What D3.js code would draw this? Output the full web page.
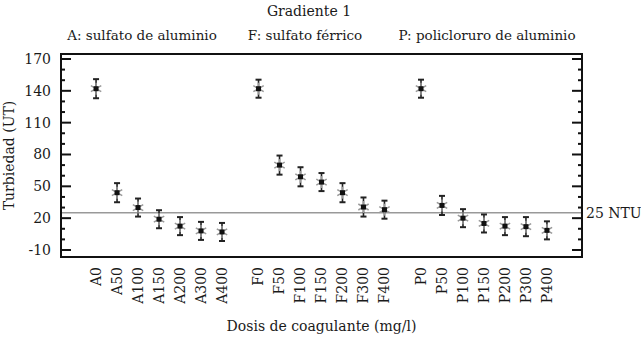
<!DOCTYPE html>
<html>
<head>
<meta charset="utf-8">
<script src="https://cdn.jsdelivr.net/npm/d3@7"></script>
<style>
  body { margin: 0; background: #fff; }
  text { font-family: "DejaVu Serif", "Liberation Serif", serif; fill: #1a1a1a; }
</style>
</head>
<body>
<div id="chart"></div>
<script>
// data
const groups = ["A", "F", "P"];
const groupNames = ["A: sulfato de aluminio", "F: sulfato férrico", "P: policloruro de aluminio"];
const doses = ["0", "50", "100", "150", "200", "300", "400"];
const turbA = [142, 44, 30, 19, 12.5, 8, 7];
const turbF = [142, 70, 59, 54, 44, 30.5, 28];
const turbP = [142, 32, 20, 15, 12.5, 12, 8.5];
const errA = [9, 9, 8.5, 8.5, 8.5, 8.5, 8.5];
const errF = [8.5, 9, 9, 8.5, 9, 9, 8.5];
const errP = [8.5, 9, 8.5, 8.5, 8.5, 9, 8.5];
const yTicks = [-10, 20, 50, 80, 110, 140, 170];
const limitNTU = 25;

const series = [turbA, turbF, turbP];
const errors = [errA, errF, errP];

// flatten into points
const points = [];
groups.forEach((g, gi) => {
    doses.forEach((d, di) => {
        points.push({ label: g + d, pos: gi * (doses.length + 0.74) + di, value: series[gi][di], err: errors[gi][di] });
    });
});

const margin = { top: 54, right: 59, bottom: 83, left: 61 },
    width = 641 - margin.left - margin.right,
    height = 340 - margin.top - margin.bottom;

const svg = d3.select("#chart")
    .append("svg")
    .attr("width", 641)
    .attr("height", 340);

const g = svg.append("g")
    .attr("transform", `translate(${margin.left},${margin.top})`);

const lastPos = d3.max(points, d => d.pos);
const x = d3.scaleLinear()
    .domain([-1.67, lastPos + 1.67])
    .range([0, width]);

const y = d3.scaleLinear()
    .domain([-16.6, 174.7])
    .range([height, 0]);

// minor ticks every 10
const minor = d3.range(-10, 175, 10);

// left axis ticks (inside)
const leftAxis = g.append("g");
leftAxis.selectAll("line")
    .data(minor)
    .join("line")
    .attr("x1", 0)
    .attr("x2", d => yTicks.includes(d) ? 10 : 4)
    .attr("y1", d => y(d))
    .attr("y2", d => y(d))
    .attr("stroke", "#111")
    .attr("stroke-width", 2);
leftAxis.selectAll("text")
    .data(yTicks)
    .join("text")
    .attr("x", -10)
    .attr("y", d => y(d))
    .attr("dy", "0.35em")
    .attr("text-anchor", "end")
    .attr("font-size", "14px")
    .text(d => d);

// right axis ticks (inside, no labels)
g.append("g").selectAll("line")
    .data(minor)
    .join("line")
    .attr("x1", width)
    .attr("x2", d => width - (yTicks.includes(d) ? 10 : 4))
    .attr("y1", d => y(d))
    .attr("y2", d => y(d))
    .attr("stroke", "#111")
    .attr("stroke-width", 2);

// 25 NTU reference line
g.append("line")
    .attr("x1", 0)
    .attr("x2", width)
    .attr("y1", y(limitNTU))
    .attr("y2", y(limitNTU))
    .attr("stroke", "#999")
    .attr("stroke-width", 1.5);
g.append("text")
    .attr("x", width + 4)
    .attr("y", y(limitNTU))
    .attr("dy", "0.35em")
    .attr("font-size", "14px")
    .text(limitNTU + " NTU");

// frame
g.append("rect")
    .attr("width", width)
    .attr("height", height)
    .attr("fill", "none")
    .attr("stroke", "#111")
    .attr("stroke-width", 2);

// error bars
const pts = g.append("g").selectAll("g")
    .data(points)
    .join("g")
    .attr("transform", d => `translate(${x(d.pos)},0)`);

pts.append("line")
    .attr("y1", d => y(d.value - d.err))
    .attr("y2", d => y(d.value + d.err))
    .attr("stroke", "#222")
    .attr("stroke-width", 1.6);
pts.append("line")
    .attr("x1", -3).attr("x2", 3)
    .attr("y1", d => y(d.value + d.err))
    .attr("y2", d => y(d.value + d.err))
    .attr("stroke", "#222")
    .attr("stroke-width", 2);
pts.append("line")
    .attr("x1", -3).attr("x2", 3)
    .attr("y1", d => y(d.value - d.err))
    .attr("y2", d => y(d.value - d.err))
    .attr("stroke", "#222")
    .attr("stroke-width", 2);

// gray asterisk marker
const arms = [0, 60, 120];
arms.forEach(a => {
    pts.append("line")
        .attr("x1", -6).attr("x2", 6)
        .attr("y1", 0).attr("y2", 0)
        .attr("transform", d => `translate(0,${y(d.value)}) rotate(${a + 30})`)
        .attr("stroke", "#999")
        .attr("stroke-width", 1.5);
});
pts.append("rect")
    .attr("x", -2.5)
    .attr("y", d => y(d.value) - 2.5)
    .attr("width", 5)
    .attr("height", 5)
    .attr("fill", "#111");

// x tick labels rotated
g.append("g").selectAll("text")
    .data(points)
    .join("text")
    .attr("transform", d => `translate(${x(d.pos)},${height + 10}) rotate(-90)`)
    .attr("dy", "0.35em")
    .attr("text-anchor", "end")
    .attr("font-size", "14px")
    .text(d => d.label);

// titles
svg.append("text")
    .attr("x", 309)
    .attr("y", 16)
    .attr("text-anchor", "middle")
    .attr("font-size", "14px")
    .text("Gradiente 1");

const groupCenters = [142, 305, 487];
svg.append("g").selectAll("text")
    .data(groupNames)
    .join("text")
    .attr("x", (d, i) => groupCenters[i])
    .attr("y", 40)
    .attr("text-anchor", "middle")
    .attr("font-size", "13.5px")
    .text(d => d);

svg.append("text")
    .attr("transform", `translate(14,${margin.top + height / 2}) rotate(-90)`)
    .attr("text-anchor", "middle")
    .attr("font-size", "14px")
    .text("Turbiedad (UT)");

svg.append("text")
    .attr("x", margin.left + width / 2)
    .attr("y", 331)
    .attr("text-anchor", "middle")
    .attr("font-size", "14px")
    .text("Dosis de coagulante (mg/l)");
</script>
</body>
</html>
